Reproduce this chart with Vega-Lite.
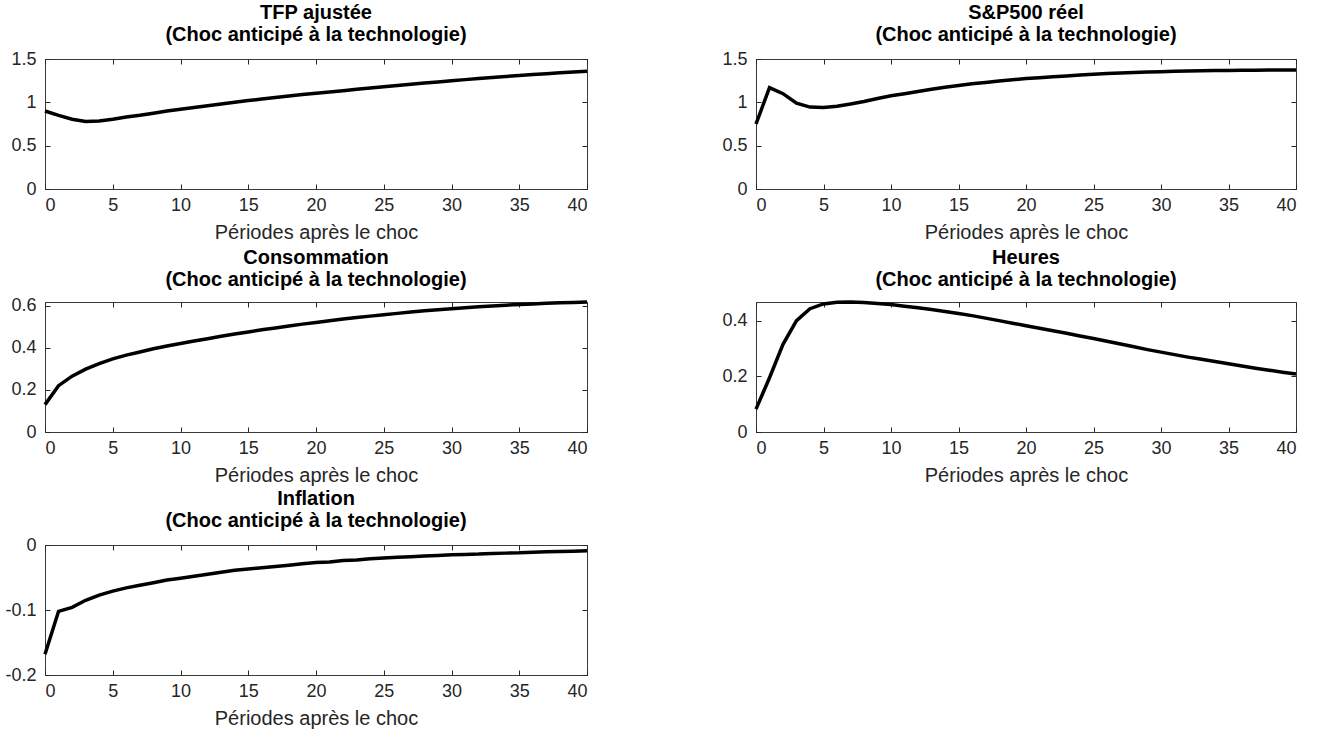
{
  "$schema": "https://vega.github.io/schema/vega-lite/v6.json",
  "background": "white",
  "autosize": {"type": "pad"},
  "padding": {"left": 4, "top": 2, "right": 5, "bottom": 2},
  "config": {
    "view": {"stroke": "#3a3a3a", "strokeWidth": 1},
    "font": "Liberation Sans",
    "title": {"font": "Liberation Sans", "fontSize": 20, "fontWeight": "bold", "color": "#000000", "anchor": "middle", "offset": 5, "lineHeight": 22},
    "axis": {"domain": false, "grid": false, "labelFont": "Liberation Sans", "labelFontSize": 18, "labelColor": "#262626", "titleFont": "Liberation Sans", "titleFontSize": 20, "titleFontWeight": "normal", "titleColor": "#262626", "tickColor": "#262626", "tickSize": -5, "titlePadding": 8, "labelExpr": "'' + datum.value"},
    "axisX": {"labelPadding": 12},
    "axisY": {"labelPadding": 14},
    "line": {"color": "#000000", "strokeWidth": 3.5}
  },
  "bounds": "flush",
  "columns": 2,
  "spacing": {"row": 113, "column": 169},
  "datasets": {
    "irf": [
      {"t": 0, "tfp": 0.90, "sp": 0.75, "cons": 0.13, "hrs": 0.082, "infl": -0.168},
      {"t": 1, "tfp": 0.85, "sp": 1.17, "cons": 0.22, "hrs": 0.195, "infl": -0.102},
      {"t": 2, "tfp": 0.805, "sp": 1.10, "cons": 0.265, "hrs": 0.315, "infl": -0.096},
      {"t": 3, "tfp": 0.78, "sp": 0.99, "cons": 0.298, "hrs": 0.40, "infl": -0.085},
      {"t": 4, "tfp": 0.785, "sp": 0.945, "cons": 0.325, "hrs": 0.443, "infl": -0.077},
      {"t": 5, "tfp": 0.805, "sp": 0.94, "cons": 0.347, "hrs": 0.46, "infl": -0.071},
      {"t": 6, "tfp": 0.83, "sp": 0.955, "cons": 0.365, "hrs": 0.466, "infl": -0.066},
      {"t": 7, "tfp": 0.85, "sp": 0.98, "cons": 0.38, "hrs": 0.467, "infl": -0.062},
      {"t": 8, "tfp": 0.875, "sp": 1.01, "cons": 0.395, "hrs": 0.465, "infl": -0.058},
      {"t": 9, "tfp": 0.90, "sp": 1.045, "cons": 0.408, "hrs": 0.462, "infl": -0.054},
      {"t": 10, "tfp": 0.92, "sp": 1.075, "cons": 0.42, "hrs": 0.458, "infl": -0.051},
      {"t": 11, "tfp": 0.94, "sp": 1.10, "cons": 0.432, "hrs": 0.452, "infl": -0.048},
      {"t": 12, "tfp": 0.96, "sp": 1.125, "cons": 0.443, "hrs": 0.446, "infl": -0.045},
      {"t": 13, "tfp": 0.98, "sp": 1.15, "cons": 0.454, "hrs": 0.44, "infl": -0.042},
      {"t": 14, "tfp": 1.0, "sp": 1.175, "cons": 0.465, "hrs": 0.433, "infl": -0.039},
      {"t": 15, "tfp": 1.02, "sp": 1.195, "cons": 0.475, "hrs": 0.426, "infl": -0.037},
      {"t": 16, "tfp": 1.038, "sp": 1.215, "cons": 0.485, "hrs": 0.418, "infl": -0.035},
      {"t": 17, "tfp": 1.056, "sp": 1.23, "cons": 0.494, "hrs": 0.409, "infl": -0.033},
      {"t": 18, "tfp": 1.074, "sp": 1.245, "cons": 0.503, "hrs": 0.40, "infl": -0.031},
      {"t": 19, "tfp": 1.09, "sp": 1.26, "cons": 0.512, "hrs": 0.391, "infl": -0.029},
      {"t": 20, "tfp": 1.105, "sp": 1.275, "cons": 0.52, "hrs": 0.382, "infl": -0.027},
      {"t": 21, "tfp": 1.12, "sp": 1.285, "cons": 0.528, "hrs": 0.373, "infl": -0.026},
      {"t": 22, "tfp": 1.135, "sp": 1.295, "cons": 0.536, "hrs": 0.364, "infl": -0.024},
      {"t": 23, "tfp": 1.15, "sp": 1.305, "cons": 0.543, "hrs": 0.355, "infl": -0.023},
      {"t": 24, "tfp": 1.165, "sp": 1.315, "cons": 0.55, "hrs": 0.345, "infl": -0.021},
      {"t": 25, "tfp": 1.18, "sp": 1.325, "cons": 0.557, "hrs": 0.336, "infl": -0.02},
      {"t": 26, "tfp": 1.195, "sp": 1.332, "cons": 0.563, "hrs": 0.326, "infl": -0.019},
      {"t": 27, "tfp": 1.209, "sp": 1.338, "cons": 0.569, "hrs": 0.316, "infl": -0.018},
      {"t": 28, "tfp": 1.222, "sp": 1.344, "cons": 0.575, "hrs": 0.306, "infl": -0.017},
      {"t": 29, "tfp": 1.235, "sp": 1.349, "cons": 0.58, "hrs": 0.296, "infl": -0.016},
      {"t": 30, "tfp": 1.25, "sp": 1.354, "cons": 0.585, "hrs": 0.287, "infl": -0.015},
      {"t": 31, "tfp": 1.262, "sp": 1.358, "cons": 0.59, "hrs": 0.278, "infl": -0.0145},
      {"t": 32, "tfp": 1.275, "sp": 1.361, "cons": 0.594, "hrs": 0.269, "infl": -0.014},
      {"t": 33, "tfp": 1.287, "sp": 1.364, "cons": 0.598, "hrs": 0.261, "infl": -0.013},
      {"t": 34, "tfp": 1.298, "sp": 1.366, "cons": 0.602, "hrs": 0.253, "infl": -0.0125},
      {"t": 35, "tfp": 1.31, "sp": 1.368, "cons": 0.605, "hrs": 0.245, "infl": -0.012},
      {"t": 36, "tfp": 1.32, "sp": 1.37, "cons": 0.608, "hrs": 0.237, "infl": -0.011},
      {"t": 37, "tfp": 1.33, "sp": 1.371, "cons": 0.611, "hrs": 0.229, "infl": -0.0105},
      {"t": 38, "tfp": 1.34, "sp": 1.372, "cons": 0.613, "hrs": 0.222, "infl": -0.01},
      {"t": 39, "tfp": 1.35, "sp": 1.373, "cons": 0.615, "hrs": 0.215, "infl": -0.0095},
      {"t": 40, "tfp": 1.36, "sp": 1.374, "cons": 0.617, "hrs": 0.208, "infl": -0.009}
    ]
  },
  "concat": [
    {
      "title": {"text": ["TFP ajustée", "(Choc anticipé à la technologie)"]},
      "width": 542, "height": 130,
      "data": {"name": "irf"},
      "layer": [
        {"mark": "line", "encoding": {
          "x": {"field": "t", "type": "quantitative", "scale": {"domain": [0, 40], "nice": false}, "axis": {"title": "Périodes après le choc", "values": [0, 5, 10, 15, 20, 25, 30, 35, 40]}},
          "y": {"field": "tfp", "type": "quantitative", "scale": {"domain": [0, 1.5], "nice": false, "zero": false}, "axis": {"title": null, "values": [0, 0.5, 1, 1.5]}}}},
        {"mark": {"type": "line", "opacity": 0}, "encoding": {
          "x": {"field": "t", "type": "quantitative", "axis": {"orient": "top", "labels": false, "title": null, "values": [0, 5, 10, 15, 20, 25, 30, 35, 40]}},
          "y": {"field": "tfp", "type": "quantitative", "axis": {"orient": "right", "labels": false, "title": null, "values": [0, 0.5, 1, 1.5]}}}}
      ],
      "resolve": {"axis": {"x": "independent", "y": "independent"}}
    },
    {
      "title": {"text": ["S&P500 réel", "(Choc anticipé à la technologie)"]},
      "width": 540, "height": 130,
      "data": {"name": "irf"},
      "layer": [
        {"mark": "line", "encoding": {
          "x": {"field": "t", "type": "quantitative", "scale": {"domain": [0, 40], "nice": false}, "axis": {"title": "Périodes après le choc", "values": [0, 5, 10, 15, 20, 25, 30, 35, 40]}},
          "y": {"field": "sp", "type": "quantitative", "scale": {"domain": [0, 1.5], "nice": false, "zero": false}, "axis": {"title": null, "values": [0, 0.5, 1, 1.5]}}}},
        {"mark": {"type": "line", "opacity": 0}, "encoding": {
          "x": {"field": "t", "type": "quantitative", "axis": {"orient": "top", "labels": false, "title": null, "values": [0, 5, 10, 15, 20, 25, 30, 35, 40]}},
          "y": {"field": "sp", "type": "quantitative", "axis": {"orient": "right", "labels": false, "title": null, "values": [0, 0.5, 1, 1.5]}}}}
      ],
      "resolve": {"axis": {"x": "independent", "y": "independent"}}
    },
    {
      "title": {"text": ["Consommation", "(Choc anticipé à la technologie)"]},
      "width": 542, "height": 130,
      "data": {"name": "irf"},
      "layer": [
        {"mark": "line", "encoding": {
          "x": {"field": "t", "type": "quantitative", "scale": {"domain": [0, 40], "nice": false}, "axis": {"title": "Périodes après le choc", "values": [0, 5, 10, 15, 20, 25, 30, 35, 40]}},
          "y": {"field": "cons", "type": "quantitative", "scale": {"domain": [0, 0.617], "nice": false, "zero": false}, "axis": {"title": null, "values": [0, 0.2, 0.4, 0.6]}}}},
        {"mark": {"type": "line", "opacity": 0}, "encoding": {
          "x": {"field": "t", "type": "quantitative", "axis": {"orient": "top", "labels": false, "title": null, "values": [0, 5, 10, 15, 20, 25, 30, 35, 40]}},
          "y": {"field": "cons", "type": "quantitative", "axis": {"orient": "right", "labels": false, "title": null, "values": [0, 0.2, 0.4, 0.6]}}}}
      ],
      "resolve": {"axis": {"x": "independent", "y": "independent"}}
    },
    {
      "title": {"text": ["Heures", "(Choc anticipé à la technologie)"]},
      "width": 540, "height": 130,
      "data": {"name": "irf"},
      "layer": [
        {"mark": "line", "encoding": {
          "x": {"field": "t", "type": "quantitative", "scale": {"domain": [0, 40], "nice": false}, "axis": {"title": "Périodes après le choc", "values": [0, 5, 10, 15, 20, 25, 30, 35, 40]}},
          "y": {"field": "hrs", "type": "quantitative", "scale": {"domain": [0, 0.467], "nice": false, "zero": false}, "axis": {"title": null, "values": [0, 0.2, 0.4]}}}},
        {"mark": {"type": "line", "opacity": 0}, "encoding": {
          "x": {"field": "t", "type": "quantitative", "axis": {"orient": "top", "labels": false, "title": null, "values": [0, 5, 10, 15, 20, 25, 30, 35, 40]}},
          "y": {"field": "hrs", "type": "quantitative", "axis": {"orient": "right", "labels": false, "title": null, "values": [0, 0.2, 0.4]}}}}
      ],
      "resolve": {"axis": {"x": "independent", "y": "independent"}}
    },
    {
      "title": {"text": ["Inflation", "(Choc anticipé à la technologie)"]},
      "width": 542, "height": 130,
      "data": {"name": "irf"},
      "layer": [
        {"mark": "line", "encoding": {
          "x": {"field": "t", "type": "quantitative", "scale": {"domain": [0, 40], "nice": false}, "axis": {"title": "Périodes après le choc", "values": [0, 5, 10, 15, 20, 25, 30, 35, 40]}},
          "y": {"field": "infl", "type": "quantitative", "scale": {"domain": [-0.2, 0], "nice": false, "zero": false}, "axis": {"title": null, "values": [-0.2, -0.1, 0]}}}},
        {"mark": {"type": "line", "opacity": 0}, "encoding": {
          "x": {"field": "t", "type": "quantitative", "axis": {"orient": "top", "labels": false, "title": null, "values": [0, 5, 10, 15, 20, 25, 30, 35, 40]}},
          "y": {"field": "infl", "type": "quantitative", "axis": {"orient": "right", "labels": false, "title": null, "values": [-0.2, -0.1, 0]}}}}
      ],
      "resolve": {"axis": {"x": "independent", "y": "independent"}}
    }
  ]
}
